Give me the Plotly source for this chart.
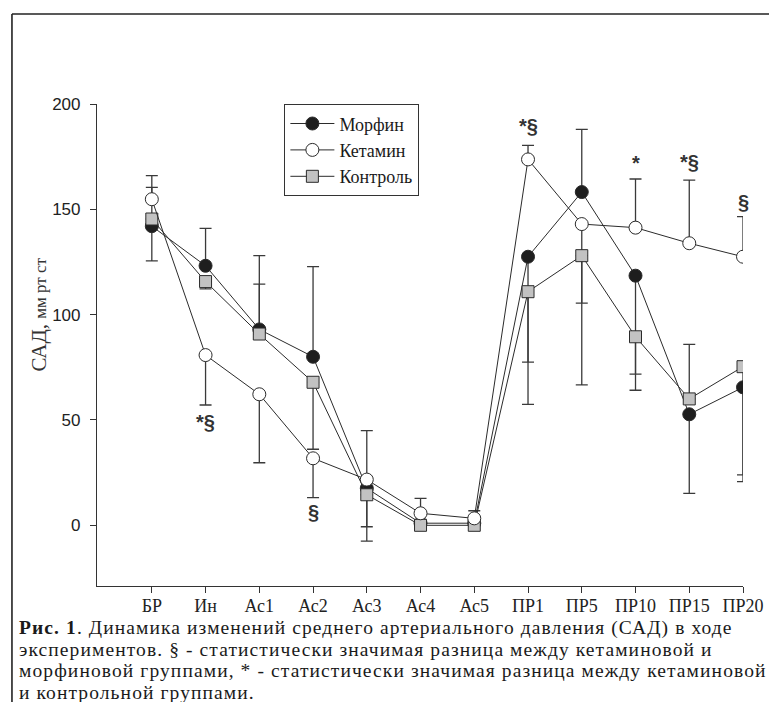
import plotly.graph_objects as go

categories = ["БР", "Ин", "Ас1", "Ас2", "Ас3", "Ас4", "Ас5", "ПР1", "ПР5", "ПР10", "ПР15", "ПР20"]

morphine = [142.0, 123.2, 93.0, 80.0, 17.6, 1.0, 1.0, 127.5, 158.2, 118.5, 52.7, 65.5]
ketamine = [154.8, 80.8, 62.2, 31.8, 21.7, 5.7, 3.3, 173.7, 143.0, 141.3, 133.9, 127.5]
control = [145.4, 115.7, 90.8, 67.9, 14.5, 0.0, 0.0, 110.9, 128.0, 89.5, 60.0, 75.3]

# error bars (upper / lower lengths, 0 = not shown)
morphine_err_up = [18.4, 17.8, 35.0, 42.8, 0, 0, 0, 0, 29.8, 0, 0, 0]
morphine_err_dn = [16.5, 0, 0, 0, 25.1, 0, 0, 50.0, 0, 46.7, 37.5, 44.8]
ketamine_err_up = [11.2, 0, 0, 0, 23.2, 7.1, 3.6, 6.7, 0, 23.1, 30.0, 19.0]
ketamine_err_dn = [0, 23.7, 32.5, 18.7, 0, 0, 0, 0, 37.5, 0, 0, 0]
control_err_up = [0, 0, 23.7, 0, 0, 0, 0, 0, 0, 0, 25.9, 0]
control_err_dn = [0, 3.5, 0, 31.8, 15.2, 0, 0, 53.5, 61.3, 25.4, 0, 51.4]

# significance marks
sig_cats = ["Ин", "Ас2", "ПР1", "ПР10", "ПР15", "ПР20"]
sig_vals = [49.0, 6.5, 189.5, 172.0, 172.6, 153.6]
sig_text = ["*§", "§", "*§", "*", "*§", "§"]

series_names = ["Морфин", "Кетамин", "Контроль"]
caption_lines = [
    "<b>Рис. 1</b>. Динамика изменений среднего артериального давления (САД) в ходе",
    "экспериментов. § - статистически значимая разница между кетаминовой и",
    "морфиновой группами, * - статистически значимая разница между кетаминовой",
    "и контрольной группами.",
]

INK = "#2b2b2b"
SERIF = "Liberation Serif, Times New Roman, serif"
SANS = "Liberation Sans, Arial, sans-serif"

# page has an 8px body margin: work in page pixels and convert
OFF = 8
W, H = 777 - OFF, 702 - OFF
PL, PR, PT, PB = 97, 742.7, 104, 586          # plot area in page pixels
L, R, T, B = PL - OFF, W - (PR - OFF), PT - OFF, H - (PB - OFF)
pw, ph = PR - PL, PB - PT
def px(xp):
    return (xp - PL) / pw
def py(yp):
    return (PB - yp) / ph

fig = go.Figure()

# error bars first so markers cover them
for vals, up, dn in [(morphine, morphine_err_up, morphine_err_dn),
                     (control, control_err_up, control_err_dn),
                     (ketamine, ketamine_err_up, ketamine_err_dn)]:
    fig.add_trace(go.Scatter(
        x=categories, y=vals, mode="markers",
        marker=dict(size=1, opacity=0),
        error_y=dict(type="data", symmetric=False, array=up, arrayminus=dn,
                     color="#3a3a3a", thickness=1.3, width=6),
        showlegend=False, hoverinfo="skip"))

fig.add_trace(go.Scatter(
    x=categories, y=morphine, mode="lines+markers", name=series_names[0],
    line=dict(color=INK, width=1),
    marker=dict(symbol="circle", size=13, color="#1e1e1e", line=dict(color=INK, width=1)),
    legendrank=1))
fig.add_trace(go.Scatter(
    x=categories, y=control, mode="lines+markers", name=series_names[2],
    line=dict(color=INK, width=1),
    marker=dict(symbol="square", size=12, color="#c2c2c2", line=dict(color=INK, width=1)),
    legendrank=3))
fig.add_trace(go.Scatter(
    x=categories, y=ketamine, mode="lines+markers", name=series_names[1],
    line=dict(color=INK, width=1),
    marker=dict(symbol="circle", size=13, color="white", line=dict(color=INK, width=1)),
    legendrank=2))

annotations = []
for c, v, t in zip(sig_cats, sig_vals, sig_text):
    annotations.append(dict(x=c, y=v, xref="x", yref="y", text="<b>" + t + "</b>", showarrow=False,
                            font=dict(family=SANS, size=20, color="#333333"),
                            xanchor="center", yanchor="middle"))

# y axis title
annotations.append(dict(x=px(39), y=100, xref="paper", yref="y",
                        text="САД, <span style='font-size:17px'>мм рт ст</span>",
                        textangle=-90, showarrow=False,
                        font=dict(family=SERIF, size=21, color="#333333"),
                        xanchor="center", yanchor="middle"))

# caption: one block, line pitch from the base font (16.54px * 1.3 = 21.5px), glyphs at 19.5px
caption_html = "<br>".join(
    "<span style='font-size:19.5px;letter-spacing:1.1px'>" + ln + "</span>" for ln in caption_lines)
annotations.append(dict(x=px(17), y=py(660.3), xref="paper", yref="paper", text=caption_html,
                        showarrow=False, xanchor="left", yanchor="middle", align="left",
                        font=dict(family=SERIF, size=16.54, color="#1a1a1a")))

fig.update_layout(
    width=W, height=H,
    margin=dict(l=L, r=R, t=T, b=B, pad=0),
    paper_bgcolor="white", plot_bgcolor="white",
    showlegend=True,
    legend=dict(x=px(284), y=py(104), xanchor="left", yanchor="top",
                bgcolor="white", bordercolor="#333333", borderwidth=1.3,
                font=dict(family=SERIF, size=18, color="#1a1a1a"),
                itemwidth=44, traceorder="normal"),
    xaxis=dict(type="category", range=[-1.02, 11], showgrid=False, zeroline=False,
               showline=True, linecolor="#333333", linewidth=1.2,
               ticks="outside", ticklen=6, tickwidth=1.2, tickcolor="#333333",
               ticklabelstandoff=-3,
               tickfont=dict(family=SERIF, size=18, color="#222222")),
    yaxis=dict(range=[(525.3 - PB) / 2.1065, 200], showgrid=False, zeroline=False,
               showline=True, linecolor="#333333", linewidth=1.2,
               ticks="outside", ticklen=6, tickwidth=1.2, tickcolor="#333333",
               tickvals=[0, 50, 100, 150, 200], ticklabelstandoff=6,
               tickfont=dict(family=SANS, size=17, color="#222222")),
    annotations=annotations,
    shapes=[
        dict(type="line", xref="paper", yref="paper", x0=px(12), x1=px(790), y0=py(14), y1=py(14),
             line=dict(color="#222222", width=1.6)),
        dict(type="line", xref="paper", yref="paper", x0=px(12), x1=px(12), y0=py(14), y1=py(720),
             line=dict(color="#222222", width=1.6)),
    ],
)

fig.write_html("out.html")
